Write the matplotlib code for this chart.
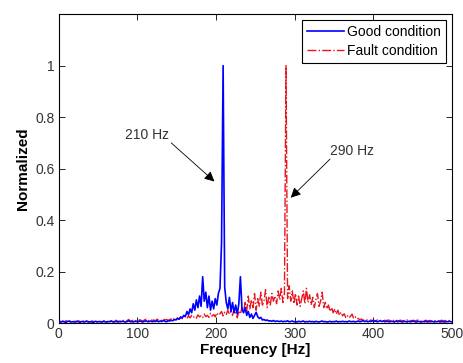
import numpy as np
import matplotlib
matplotlib.use("Agg")
import matplotlib.pyplot as plt

plt.rcParams['font.family'] = ['Liberation Sans', 'DejaVu Sans']

# Frequency grid (Hz), 2 Hz bins centred on odd frequencies
freq = np.arange(1, 500, 2)

good_condition = [
    0.006, 0.004, 0.007, 0.005, 0.003, 0.006, 0.008, 0.004, 0.005, 0.006,
    0.004, 0.007, 0.005, 0.003, 0.006, 0.005, 0.004, 0.008, 0.005, 0.004,
    0.006, 0.003, 0.005, 0.007, 0.004, 0.006, 0.005, 0.004, 0.007, 0.005,
    0.004, 0.006, 0.005, 0.008, 0.004, 0.005, 0.007, 0.004, 0.006, 0.005,
    0.007, 0.005, 0.004, 0.006, 0.009, 0.005, 0.006, 0.004, 0.007, 0.006,
    0.005, 0.008, 0.006, 0.004, 0.007, 0.009, 0.005, 0.006, 0.008, 0.005,
    0.007, 0.006, 0.009, 0.005, 0.008, 0.006, 0.010, 0.007, 0.005, 0.009,
    0.008, 0.011, 0.009, 0.014, 0.012, 0.018, 0.015, 0.024, 0.020, 0.030,
    0.026, 0.045, 0.032, 0.055, 0.040, 0.075, 0.050, 0.090, 0.060, 0.105,
    0.065, 0.180, 0.085, 0.120, 0.060, 0.105, 0.050, 0.085, 0.055, 0.095,
    0.070, 0.115, 0.135, 0.310, 1.000, 0.140, 0.080, 0.055, 0.100, 0.045,
    0.080, 0.040, 0.070, 0.035, 0.075, 0.180, 0.055, 0.040, 0.060, 0.030,
    0.045, 0.022, 0.035, 0.018, 0.030, 0.042, 0.025, 0.018, 0.022, 0.012,
    0.014, 0.010, 0.012, 0.008, 0.009, 0.007, 0.010, 0.006, 0.008, 0.007,
    0.006, 0.008, 0.005, 0.007, 0.006, 0.009, 0.005, 0.006, 0.008, 0.005,
    0.006, 0.004, 0.007, 0.005, 0.006, 0.008, 0.004, 0.006, 0.005, 0.007,
    0.005, 0.006, 0.004, 0.007, 0.005, 0.004, 0.006, 0.008, 0.005, 0.006,
    0.004, 0.005, 0.007, 0.004, 0.006, 0.005, 0.008, 0.004, 0.006, 0.005,
    0.007, 0.005, 0.006, 0.004, 0.008, 0.006, 0.005, 0.007, 0.004, 0.006,
    0.008, 0.005, 0.007, 0.009, 0.006, 0.008, 0.005, 0.007, 0.006, 0.009,
    0.006, 0.008, 0.005, 0.007, 0.009, 0.006, 0.008, 0.005, 0.007, 0.006,
    0.005, 0.007, 0.006, 0.004, 0.008, 0.005, 0.007, 0.006, 0.004, 0.007,
    0.006, 0.004, 0.007, 0.005, 0.006, 0.008, 0.005, 0.004, 0.007, 0.005,
    0.004, 0.006, 0.005, 0.007, 0.004, 0.006, 0.005, 0.007, 0.004, 0.006,
    0.005, 0.007, 0.004, 0.006, 0.005, 0.004, 0.006, 0.005, 0.007, 0.005,
]

fault_condition = [
    0.008, 0.005, 0.007, 0.004, 0.009, 0.006, 0.005, 0.008, 0.006, 0.004,
    0.007, 0.005, 0.009, 0.006, 0.004, 0.008, 0.006, 0.005, 0.007, 0.004,
    0.006, 0.008, 0.004, 0.007, 0.005, 0.009, 0.006, 0.004, 0.008, 0.006,
    0.005, 0.007, 0.010, 0.006, 0.008, 0.005, 0.011, 0.007, 0.006, 0.009,
    0.012, 0.008, 0.006, 0.010, 0.014, 0.007, 0.009, 0.012, 0.008, 0.011,
    0.009, 0.013, 0.010, 0.008, 0.012, 0.015, 0.009, 0.011, 0.014, 0.010,
    0.012, 0.009, 0.015, 0.011, 0.013, 0.010, 0.016, 0.012, 0.014, 0.011,
    0.013, 0.016, 0.012, 0.018, 0.014, 0.020, 0.015, 0.022, 0.017, 0.020,
    0.025, 0.018, 0.028, 0.020, 0.030, 0.022, 0.026, 0.019, 0.032, 0.024,
    0.028, 0.021, 0.035, 0.025, 0.030, 0.022, 0.038, 0.027, 0.033, 0.024,
    0.040, 0.030, 0.036, 0.045, 0.028, 0.042, 0.033, 0.050, 0.035, 0.044,
    0.030, 0.055, 0.038, 0.020, 0.048, 0.035, 0.060, 0.040, 0.080, 0.045,
    0.105, 0.055, 0.090, 0.060, 0.115, 0.050, 0.095, 0.065, 0.120, 0.070,
    0.085, 0.130, 0.060, 0.100, 0.070, 0.115, 0.085, 0.105, 0.075, 0.125,
    0.090, 0.135, 0.080, 0.115, 1.000, 0.095, 0.145, 0.085, 0.125, 0.075,
    0.115, 0.070, 0.105, 0.065, 0.095, 0.125, 0.075, 0.135, 0.080, 0.110,
    0.070, 0.100, 0.060, 0.090, 0.115, 0.065, 0.085, 0.120, 0.060, 0.080,
    0.055, 0.070, 0.045, 0.060, 0.040, 0.055, 0.035, 0.050, 0.030, 0.042,
    0.028, 0.036, 0.022, 0.030, 0.020, 0.026, 0.035, 0.018, 0.024, 0.015,
    0.018, 0.012, 0.016, 0.010, 0.014, 0.011, 0.013, 0.009, 0.012, 0.010,
    0.011, 0.008, 0.012, 0.009, 0.010, 0.013, 0.008, 0.011, 0.009, 0.012,
    0.010, 0.008, 0.011, 0.009, 0.012, 0.008, 0.010, 0.011, 0.008, 0.010,
    0.009, 0.012, 0.008, 0.010, 0.009, 0.011, 0.008, 0.010, 0.012, 0.009,
    0.008, 0.010, 0.009, 0.011, 0.008, 0.010, 0.009, 0.008, 0.011, 0.009,
    0.010, 0.008, 0.009, 0.011, 0.008, 0.010, 0.009, 0.008, 0.010, 0.009,
]

x_ticks = [0, 100, 200, 300, 400, 500]
y_ticks = [0, 0.2, 0.4, 0.6, 0.8, 1]
y_tick_labels = ['0', '0.2', '0.4', '0.6', '0.8', '1']

fig = plt.figure(figsize=(4.63, 3.63), dpi=100)
ax = fig.add_axes([0.127, 0.110, 0.849, 0.851])

ax.plot(freq, good_condition, color='#0000ff', lw=1.2, label='Good condition', zorder=3)
ax.plot(freq, fault_condition, color='#e8141e', lw=1.0, ls='-.', label='Fault condition', zorder=2)

ax.set_xlim(0, 500)
ax.set_ylim(0, 1.2)
ax.set_xticks(x_ticks)
ax.set_yticks(y_ticks)
ax.set_yticklabels(y_tick_labels)
ax.tick_params(direction='in', top=True, right=True, length=4, width=0.6,
               labelsize=10, labelcolor='#333333', pad=3)
for s in ax.spines.values():
    s.set_linewidth(0.8)

ax.set_xlabel('Frequency [Hz]', fontsize=11, fontweight='bold', labelpad=1)
ax.set_ylabel('Normalized', fontsize=11, fontweight='bold', labelpad=4)

arrow_style = dict(arrowstyle='-|>', color='black', lw=0.6, mutation_scale=15,
                   shrinkA=0, shrinkB=0)
ax.text(112, 0.73, '210 Hz', fontsize=10, color='#333333', ha='center', va='center')
ax.annotate('', xy=(198, 0.55), xytext=(143, 0.70), arrowprops=arrow_style)
ax.text(373, 0.668, '290 Hz', fontsize=10, color='#333333', ha='center', va='center')
ax.annotate('', xy=(295, 0.487), xytext=(345, 0.637), arrowprops=arrow_style)

leg = ax.legend(loc='upper right', fontsize=10, handlelength=2.7, handletextpad=0.2,
                borderpad=0.35, labelspacing=0.35, fancybox=False, framealpha=1,
                edgecolor='black', borderaxespad=0.45)
leg.get_frame().set_linewidth(0.8)

fig.savefig('out.png', dpi=100)
